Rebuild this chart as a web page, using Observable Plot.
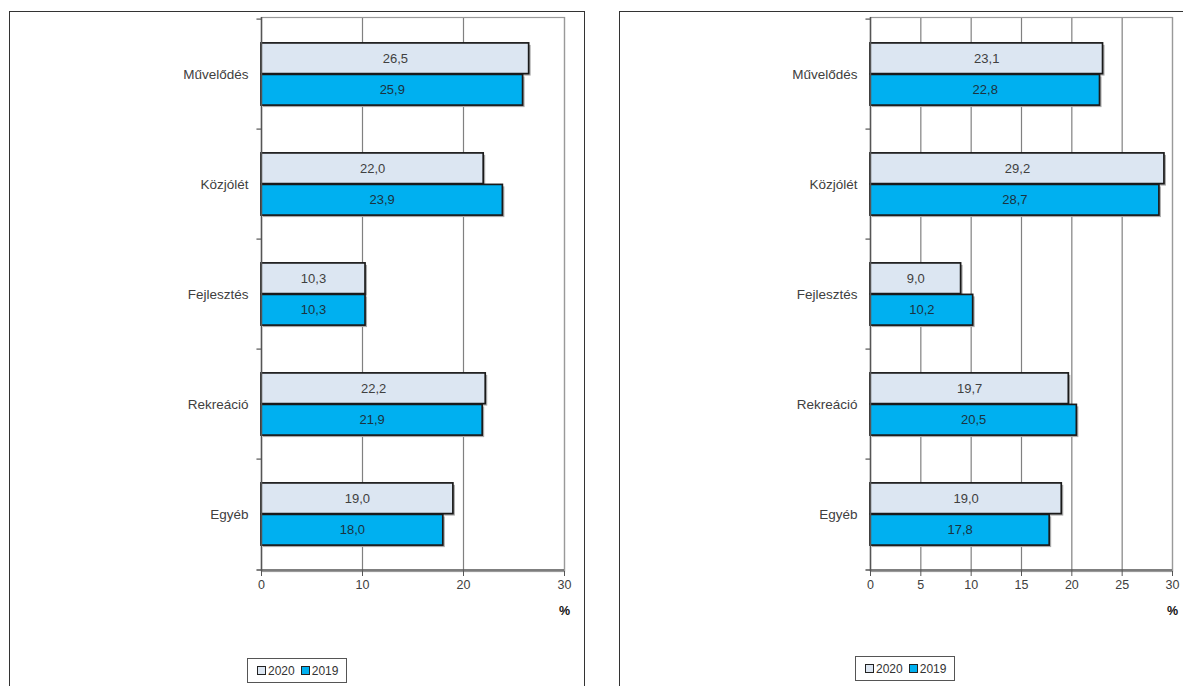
<!DOCTYPE html>
<html>
<head>
<meta charset="utf-8">
<script src="https://cdn.jsdelivr.net/npm/d3@7"></script>
<script src="https://cdn.jsdelivr.net/npm/@observablehq/plot@0.6"></script>
<style>
  body { margin: 0; background: #fff; font-family: "Liberation Sans", Arial, sans-serif; width: 1183px; height: 686px; overflow: hidden; position: relative; }
  .panel { position: absolute; top: 11px; height: 700px; border: 1px solid #333; box-sizing: border-box; background: #fff; }
  .legend { position: absolute; border: 1px solid #555; box-sizing: border-box; height: 25px; width: 100px; font-size: 12px; color: #333; display: flex; align-items: center; padding-left: 9px; }
  .legend .sw { display: inline-block; width: 7px; height: 7px; border: 1px solid #222; margin-right: 2px; }
  .legend .item { display: inline-flex; align-items: center; margin-right: 6px; }
</style>
</head>
<body>
<script>
const categories = ["Művelődés", "Közjólét", "Fejlesztés", "Rekreáció", "Egyéb"];
const years = ["2020", "2019"];
const leftValues2020 = [26.5, 22.0, 10.3, 22.2, 19.0];
const leftValues2019 = [25.9, 23.9, 10.3, 21.9, 18.0];
const rightValues2020 = [23.1, 29.2, 9.0, 19.7, 19.0];
const rightValues2019 = [22.8, 28.7, 10.2, 20.5, 17.8];
const leftTicks = [0, 10, 20, 30];
const rightTicks = [0, 5, 10, 15, 20, 25, 30];
const colors = {"2020": "#dce6f2", "2019": "#00b0f0"};

const fmt = v => v.toFixed(1).replace(".", ",");
const FONT = "Liberation Sans, Arial, sans-serif";

function makeChart(v2020, v2019, ticks, marginLeft, plotWidth) {
  const data = [];
  categories.forEach((c, i) => {
    data.push({cat: c, year: "2020", value: v2020[i]});
    data.push({cat: c, year: "2019", value: v2019[i]});
  });
  const d20 = data.filter(d => d.year === "2020");
  const d19 = data.filter(d => d.year === "2019");
  const marginTop = 5, marginBottom = 60, plotH = 554;
  const band = plotH / categories.length;
  const half = 31.5;
  const tickLen = 0.45;
  const textStyle = {fontFamily: FONT, fontSize: 13};
  return Plot.plot({
    width: marginLeft + plotWidth + 20,
    height: marginTop + plotH + marginBottom,
    marginLeft, marginRight: 20, marginTop, marginBottom,
    style: {fontFamily: FONT, fontSize: "12px", color: "#404040", background: "transparent"},
    x: {domain: [0, 30], ticks, tickFormat: d => d, label: null},
    y: {domain: categories, padding: 0, label: null},
    marks: [
      Plot.ruleX(ticks.filter(t => t > 0), {stroke: "#808080", strokeWidth: 1.2}),
      Plot.frame({stroke: "#999", strokeWidth: 1.2}),
      // shadows
      Plot.barX(d20, {x: "value", y: "cat", insetTop: band/2 - half, insetBottom: band/2, fill: "#aaa", dx: 2, dy: 2}),
      Plot.barX(d19, {x: "value", y: "cat", insetTop: band/2, insetBottom: band/2 - half, fill: "#aaa", dx: 2, dy: 2}),
      Plot.barX(d20, {x: "value", y: "cat", insetTop: band/2 - half, insetBottom: band/2, fill: colors["2020"], stroke: "#1a1a1a", strokeWidth: 1.7}),
      Plot.barX(d19, {x: "value", y: "cat", insetTop: band/2, insetBottom: band/2 - half, fill: colors["2019"], stroke: "#1a1a1a", strokeWidth: 1.7}),
      Plot.text(d20, {x: d => d.value / 2, y: "cat", dy: -half/2, text: d => fmt(d.value), fill: "#404040", ...textStyle}),
      Plot.text(d19, {x: d => d.value / 2, y: "cat", dy: half/2, text: d => fmt(d.value), fill: "#1c3340", ...textStyle}),
      // left axis line
      Plot.ruleX([0], {stroke: "#555", strokeWidth: 1.5}),
      // boundary ticks
      Plot.ruleY(categories, {y: d => d, dy: -band/2, x1: -tickLen, x2: 0, stroke: "#555", strokeWidth: 1.2}),
      // bottom axis line
      Plot.ruleY([categories[categories.length - 1]], {y: d => d, dy: band/2, x1: -tickLen, x2: 30, stroke: "#555", strokeWidth: 1.5}),
      Plot.axisX({ticks, tickFormat: d => d, tickSize: 5, tickPadding: 4, stroke: "#555", fill: "#404040", fontSize: 12.5, label: null}),
      Plot.axisY({tickSize: 0, tickPadding: 13, fill: "#404040", fontSize: 13.5, label: null}),
      Plot.text(["%"], {frameAnchor: "bottom-right", dy: 43, text: d => d, textAnchor: "middle", fontWeight: "bold", fill: "#111", fontSize: 12.5, fontFamily: FONT})
    ]
  });
}

function addPanel(left, width, v2020, v2019, ticks, marginLeft, plotWidth, legendLeft, legendTop) {
  const panel = document.createElement("div");
  panel.className = "panel";
  panel.style.left = left + "px";
  panel.style.width = width + "px";
  document.body.appendChild(panel);
  const chart = makeChart(v2020, v2019, ticks, marginLeft, plotWidth);
  chart.style.position = "absolute";
  chart.style.left = "0px";
  chart.style.top = "0px";
  panel.appendChild(chart);
  const lg = document.createElement("div");
  lg.className = "legend";
  lg.style.left = legendLeft + "px";
  lg.style.top = legendTop + "px";
  years.forEach(y => {
    const it = document.createElement("span");
    it.className = "item";
    const sw = document.createElement("span");
    sw.className = "sw";
    sw.style.background = colors[y];
    it.appendChild(sw);
    it.appendChild(document.createTextNode(y));
    lg.appendChild(it);
  });
  panel.appendChild(lg);
}

addPanel(9, 576, leftValues2020, leftValues2019, leftTicks, 251, 303, 237, 646);
addPanel(619, 600, rightValues2020, rightValues2019, rightTicks, 250, 302, 235, 644);
</script>
</body>
</html>
